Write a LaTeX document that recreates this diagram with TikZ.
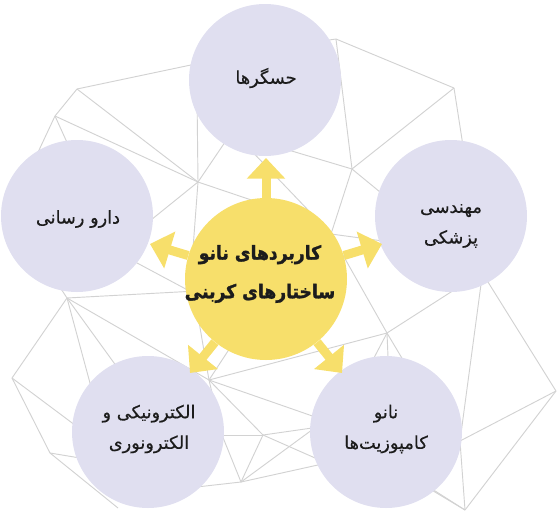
\documentclass[tikz,border=0pt]{standalone}
\usepackage{fontspec}
\usetikzlibrary{arrows.meta}
\TeXXeTstate=1
\newfontfamily\fa[Script=Arabic,FakeBold=0.4]{DejaVu Sans}
\newfontfamily\fab[Script=Arabic,FakeBold=1.6,FakeStretch=0.9]{DejaVu Sans Bold}
\definecolor{lav}{HTML}{E0DFF0}
\definecolor{yel}{HTML}{F7DF6B}
\definecolor{meshc}{HTML}{D2D2D2}
\definecolor{ink}{HTML}{1C1C1C}
\begin{document}
\begin{tikzpicture}[x=0.75pt,y=-0.75pt,
  meshline/.style={draw=meshc, line width=0.7pt},
  bubble/.style={circle, fill=lav, minimum size=114pt, inner sep=0pt},
  hub/.style={circle, fill=yel, minimum size=121.5pt, inner sep=0pt},
  lbl/.style={align=center, inner sep=0pt, text=ink, font=\fa\fontsize{13.3}{23}\selectfont},
  hublbl/.style={align=center, inner sep=0pt, text=ink, font=\fab\fontsize{14.3}{29}\selectfont},
  bigarrow/.style={draw=yel, line width=6.75pt, -{Triangle[width=28pt,length=15.5pt]}}
]
\useasboundingbox (0,0) rectangle (558,519);
% mesh vertices
\coordinate (V1) at (77,89);
\coordinate (V2) at (55,116);
\coordinate (V3) at (198,182);
\coordinate (V4) at (336,39);
\coordinate (V5) at (454,88);
\coordinate (V6) at (352,169);
\coordinate (V7) at (67,298);
\coordinate (V8) at (387,333);
\coordinate (V9) at (556,391);
\coordinate (V10) at (465,510);
\coordinate (V11) at (12,378);
\coordinate (V12) at (50,453);
\coordinate (V13) at (118,508);
\coordinate (V14) at (209,380);
\coordinate (V15) at (263,435);
\coordinate (V16) at (241,482);
\coordinate (V17) at (331,234);
\coordinate (V18) at (222,435);
\coordinate (V19) at (460,441);
% hidden ends
\coordinate (HT1) at (262,50);
\coordinate (HT2) at (197,95);
\coordinate (HT3) at (240,120);
\coordinate (HT4) at (275,146);
\coordinate (HT5) at (243,142);
\coordinate (HL1) at (25,180);
\coordinate (HL2) at (75,160);
\coordinate (HL3) at (120,245);
\coordinate (HL4) at (52,275);
\coordinate (HL5) at (109,248);
\coordinate (HR1) at (466,165);
\coordinate (HR2) at (408,215);
\coordinate (HR3) at (420,246);
\coordinate (HR4) at (465,283);
\coordinate (HR5) at (484,262);
\coordinate (HR6) at (478,266);
\coordinate (Y2) at (212,303);
\coordinate (Y5) at (192,262);
\coordinate (Y6) at (275,208);
\coordinate (Y8) at (215,290);
\coordinate (Y9) at (197,310);
\coordinate (Y10) at (245,325);
\coordinate (HB1) at (130,385);
\coordinate (HB2) at (100,420);
\coordinate (HB3) at (111,452);
\coordinate (HB4) at (110,463);
\coordinate (HB6) at (170,490);
\coordinate (HBR1) at (344,427);
\coordinate (HBR2) at (340,424);
\coordinate (HBR3) at (340,469);
\coordinate (HBR4) at (335,413);
\coordinate (HBR5) at (345,459);
\coordinate (HBR6) at (365,375);
\coordinate (HBR7) at (389,380);
\coordinate (HBR8) at (412,375);
\coordinate (HBR10) at (420,483);
\coordinate (HBR11) at (410,475);
\foreach \a/\b in {V1/V2,V1/V3,V1/HT1,V2/V3,V2/HL1,V2/HL2,
  V3/HT2,V3/HT3,V3/HL3,V3/Y5,V3/Y6,HT5/V17,
  V4/HT1,V4/V5,V4/V6,V5/V6,V5/HR1,V6/HT4,V6/HR2,V6/V17,V17/V8,V17/HR3,
  V7/HL4,V7/Y8,V7/V14,V7/HB1,V7/HB2,V7/V11,HL5/Y2,
  V11/V12,V11/HB3,V12/HB4,V12/V13,
  V14/V8,V14/Y9,V14/Y10,V14/HBR1,V14/V15,V14/V18,V18/V15,V18/V16,
  V15/HBR2,V15/HBR3,V15/V16,V16/HBR4,V16/HBR5,V16/HB6,
  V8/HR4,V8/HBR6,V8/HBR7,V8/HBR8,
  HR5/V19,V19/V9,V19/V10,V9/HR6,V9/V10,V10/HBR10,V10/HBR11}
  \draw[meshline] (\a) -- (\b);
% circles
\node[bubble] (top) at (265,80) {};
\node[bubble] (left) at (77,216) {};
\node[bubble] (right) at (451,216) {};
\node[bubble] (bl) at (148,432) {};
\node[bubble] (br) at (386,432) {};
\node[hub] (hub) at (266,279) {};
% labels
\node[lbl] (topt) at (266,78) {\beginR حسگرها\endR};
\node[lbl] (leftt) at (78,219) {\beginR دارو رسانی\endR};
\node[lbl] (rightt) at (451,226) {\beginR مهندسی\endR\\\beginR پزشکی\endR};
\node[lbl] (blt) at (149,429) {\beginR الکترونیکی و\endR\\\beginR الکترونوری\endR};
\node[lbl] (brt) at (386,429) {\beginR نانو\endR\\\beginR کامپوزیت‌ها\endR};
\node[hublbl] (hubt) at (260,274) {\beginR کاربردهای نانو\endR\\\beginR ساختارهای کربنی\endR};
% arrow tips
\coordinate (tT) at (266,158);
\coordinate (tL) at (150,244);
\coordinate (tR) at (382,244);
\coordinate (tBL) at (190,373);
\coordinate (tBR) at (342,373);
\foreach \t in {tT,tL,tR,tBL,tBR}
  \draw[bigarrow] (hub) -- (\t);
\end{tikzpicture}
\end{document}
